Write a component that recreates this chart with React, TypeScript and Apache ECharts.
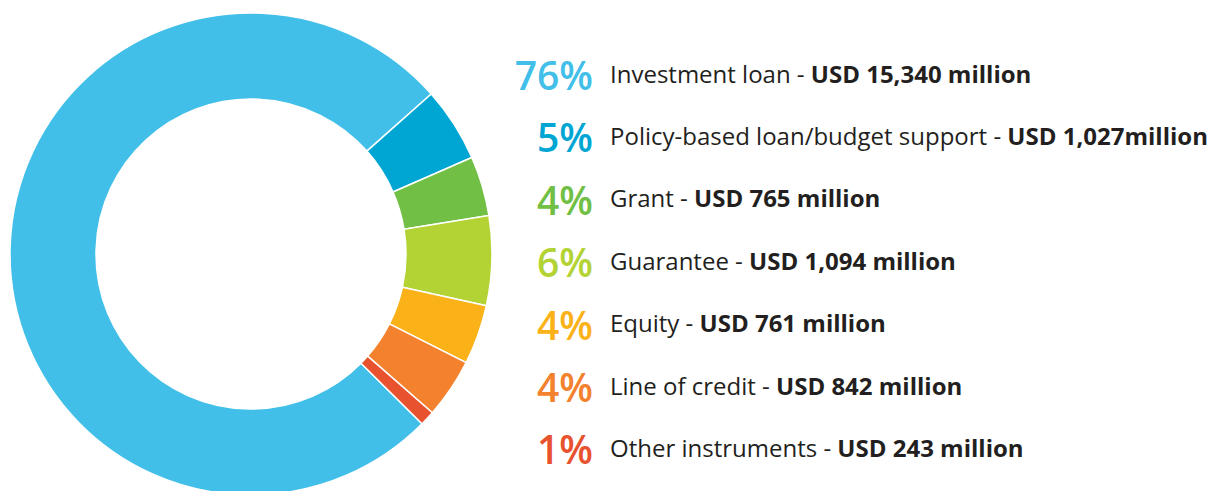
import React, { useEffect, useRef } from "react";
import * as echarts from "echarts";

const categories = [
  "Investment loan",
  "Policy-based loan/budget support",
  "Grant",
  "Guarantee",
  "Equity",
  "Line of credit",
  "Other instruments",
];
const percents = [76, 5, 4, 6, 4, 4, 1];
const amounts = [
  "USD 15,340 million",
  "USD 1,027million",
  "USD 765 million",
  "USD 1,094 million",
  "USD 761 million",
  "USD 842 million",
  "USD 243 million",
];
const colors = ["#42BFE9", "#00A6D3", "#71BF44", "#B3D334", "#FBB219", "#F3812E", "#E8522E"];

const FONT = '"Open Sans", "Noto Sans", sans-serif';

export default function App() {
  const ref = useRef<HTMLDivElement>(null);
  useEffect(() => {
    if (!ref.current) return;
    const chart = echarts.init(ref.current, null, { renderer: "svg" });
    const rowY0 = 73;
    const rowGap = 62.4;
    const graphics: any[] = [];
    categories.forEach((c, i) => {
      const y = rowY0 + i * rowGap;
      graphics.push({
        type: "text",
        x: 593,
        y: y + 1.5,
        silent: true,
        style: {
          text: percents[i] + "%",
          fill: colors[i],
          fontFamily: FONT,
          fontSize: 39,
          fontWeight: 600,
          align: "right",
          verticalAlign: "middle",
        },
      });
      graphics.push({
        type: "text",
        x: 610,
        y,
        silent: true,
        style: {
          text: `{a|${c} - }{b|${amounts[i]}}`,
          verticalAlign: "middle",
          align: "left",
          rich: {
            a: { fontFamily: FONT, fontSize: 24, fill: "#231F20", fontWeight: "normal" },
            b: { fontFamily: FONT, fontSize: 24, fill: "#231F20", fontWeight: "bold" },
          },
        },
      });
    });
    chart.setOption({
      animation: false,
      backgroundColor: "#ffffff",
      series: [
        {
          type: "pie",
          center: [251, 254],
          radius: [155, 241],
          startAngle: -44.8,
          clockwise: true,
          silent: true,
          avoidLabelOverlap: false,
          label: { show: false },
          labelLine: { show: false },
          emphasis: { disabled: true },
          itemStyle: { borderColor: "#ffffff", borderWidth: 1.5 },
          data: categories.map((c, i) => ({
            name: c,
            value: percents[i],
            itemStyle: { color: colors[i] },
          })),
        },
      ],
      graphic: graphics,
    });
    return () => chart.dispose();
  }, []);
  return (
    <div
      ref={ref}
      style={{ position: "absolute", left: 0, top: 0, width: 1212, height: 491 }}
    />
  );
}
